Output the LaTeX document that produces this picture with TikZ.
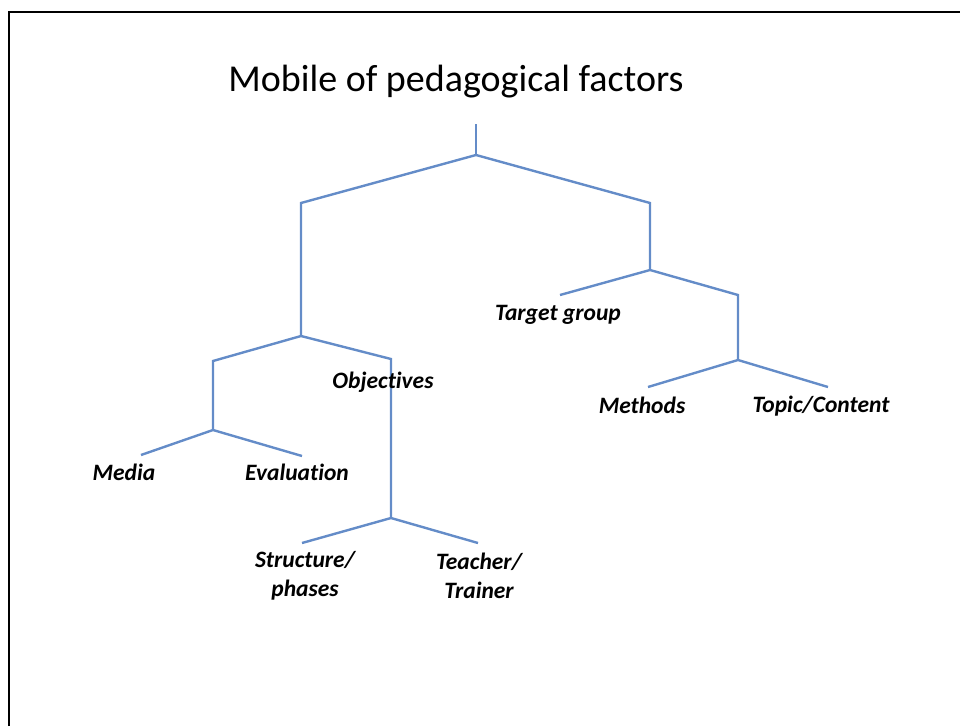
\documentclass[tikz,border=0pt]{standalone}
\usepackage{fontspec}
\setmainfont{Carlito}[Ligatures=NoCommon]
\definecolor{barblue}{RGB}{100,140,200}
\begin{document}
\begin{tikzpicture}[x=1pt,y=-1pt,
  bar/.style={draw=barblue, line width=2.4pt, line join=miter},
  lab/.style={font=\fontsize{23.5}{29}\selectfont\bfseries\itshape, inner sep=0pt, align=center},
  frame/.style={draw=black, line width=2pt}]
\useasboundingbox (0,0) rectangle (960,726);
% frame
\coordinate (fbl) at (9,726);
\coordinate (ftl) at (9,12);
\coordinate (ftr) at (960,12);
\draw[frame] (fbl) -- (ftl) -- (ftr);
% title
\node[font=\fontsize{38}{44}\selectfont, inner sep=0pt] (title) at (456,82) {Mobile of pedagogical factors};
% junctions
\coordinate (top) at (476,124);
\coordinate (j0) at (476,155);
\coordinate (jl) at (301,203);
\coordinate (jr) at (650,203);
\coordinate (jl2) at (301,336);
\coordinate (a) at (213,361);
\coordinate (b) at (391,359);
\coordinate (ja) at (213,430);
\coordinate (mediaend) at (141,455);
\coordinate (evalend) at (302,456);
\coordinate (jb) at (391,518);
\coordinate (spend) at (302,543);
\coordinate (ttend) at (478,543);
\coordinate (jr2) at (650,270);
\coordinate (tgend) at (560,295);
\coordinate (c) at (738,295);
\coordinate (jc) at (738,360);
\coordinate (meend) at (648,387);
\coordinate (tcend) at (828,387);
% bars
\draw[bar] (top) -- (j0);
\draw[bar] (jl2) -- (jl) -- (j0) -- (jr) -- (jr2);
\draw[bar] (ja) -- (a) -- (jl2) -- (b) -- (jb);
\draw[bar] (mediaend) -- (ja) -- (evalend);
\draw[bar] (spend) -- (jb) -- (ttend);
\draw[bar] (tgend) -- (jr2) -- (c) -- (jc);
\draw[bar] (meend) -- (jc) -- (tcend);
% labels
\node[lab] (tg) at (558,315) {Target group};
\node[lab] (obj) at (383,382) {Objectives};
\node[lab] (meth) at (642,405) {Methods};
\node[lab] (topic) at (821,406) {Topic/Content};
\node[lab] (media) at (124,472) {Media};
\node[lab] (eval) at (297,472) {Evaluation};
\node[lab] (struct) at (305,576) {Structure/\\phases};
\node[lab] (teach) at (479,576) {Teacher/\\Trainer};
\end{tikzpicture}
\end{document}
